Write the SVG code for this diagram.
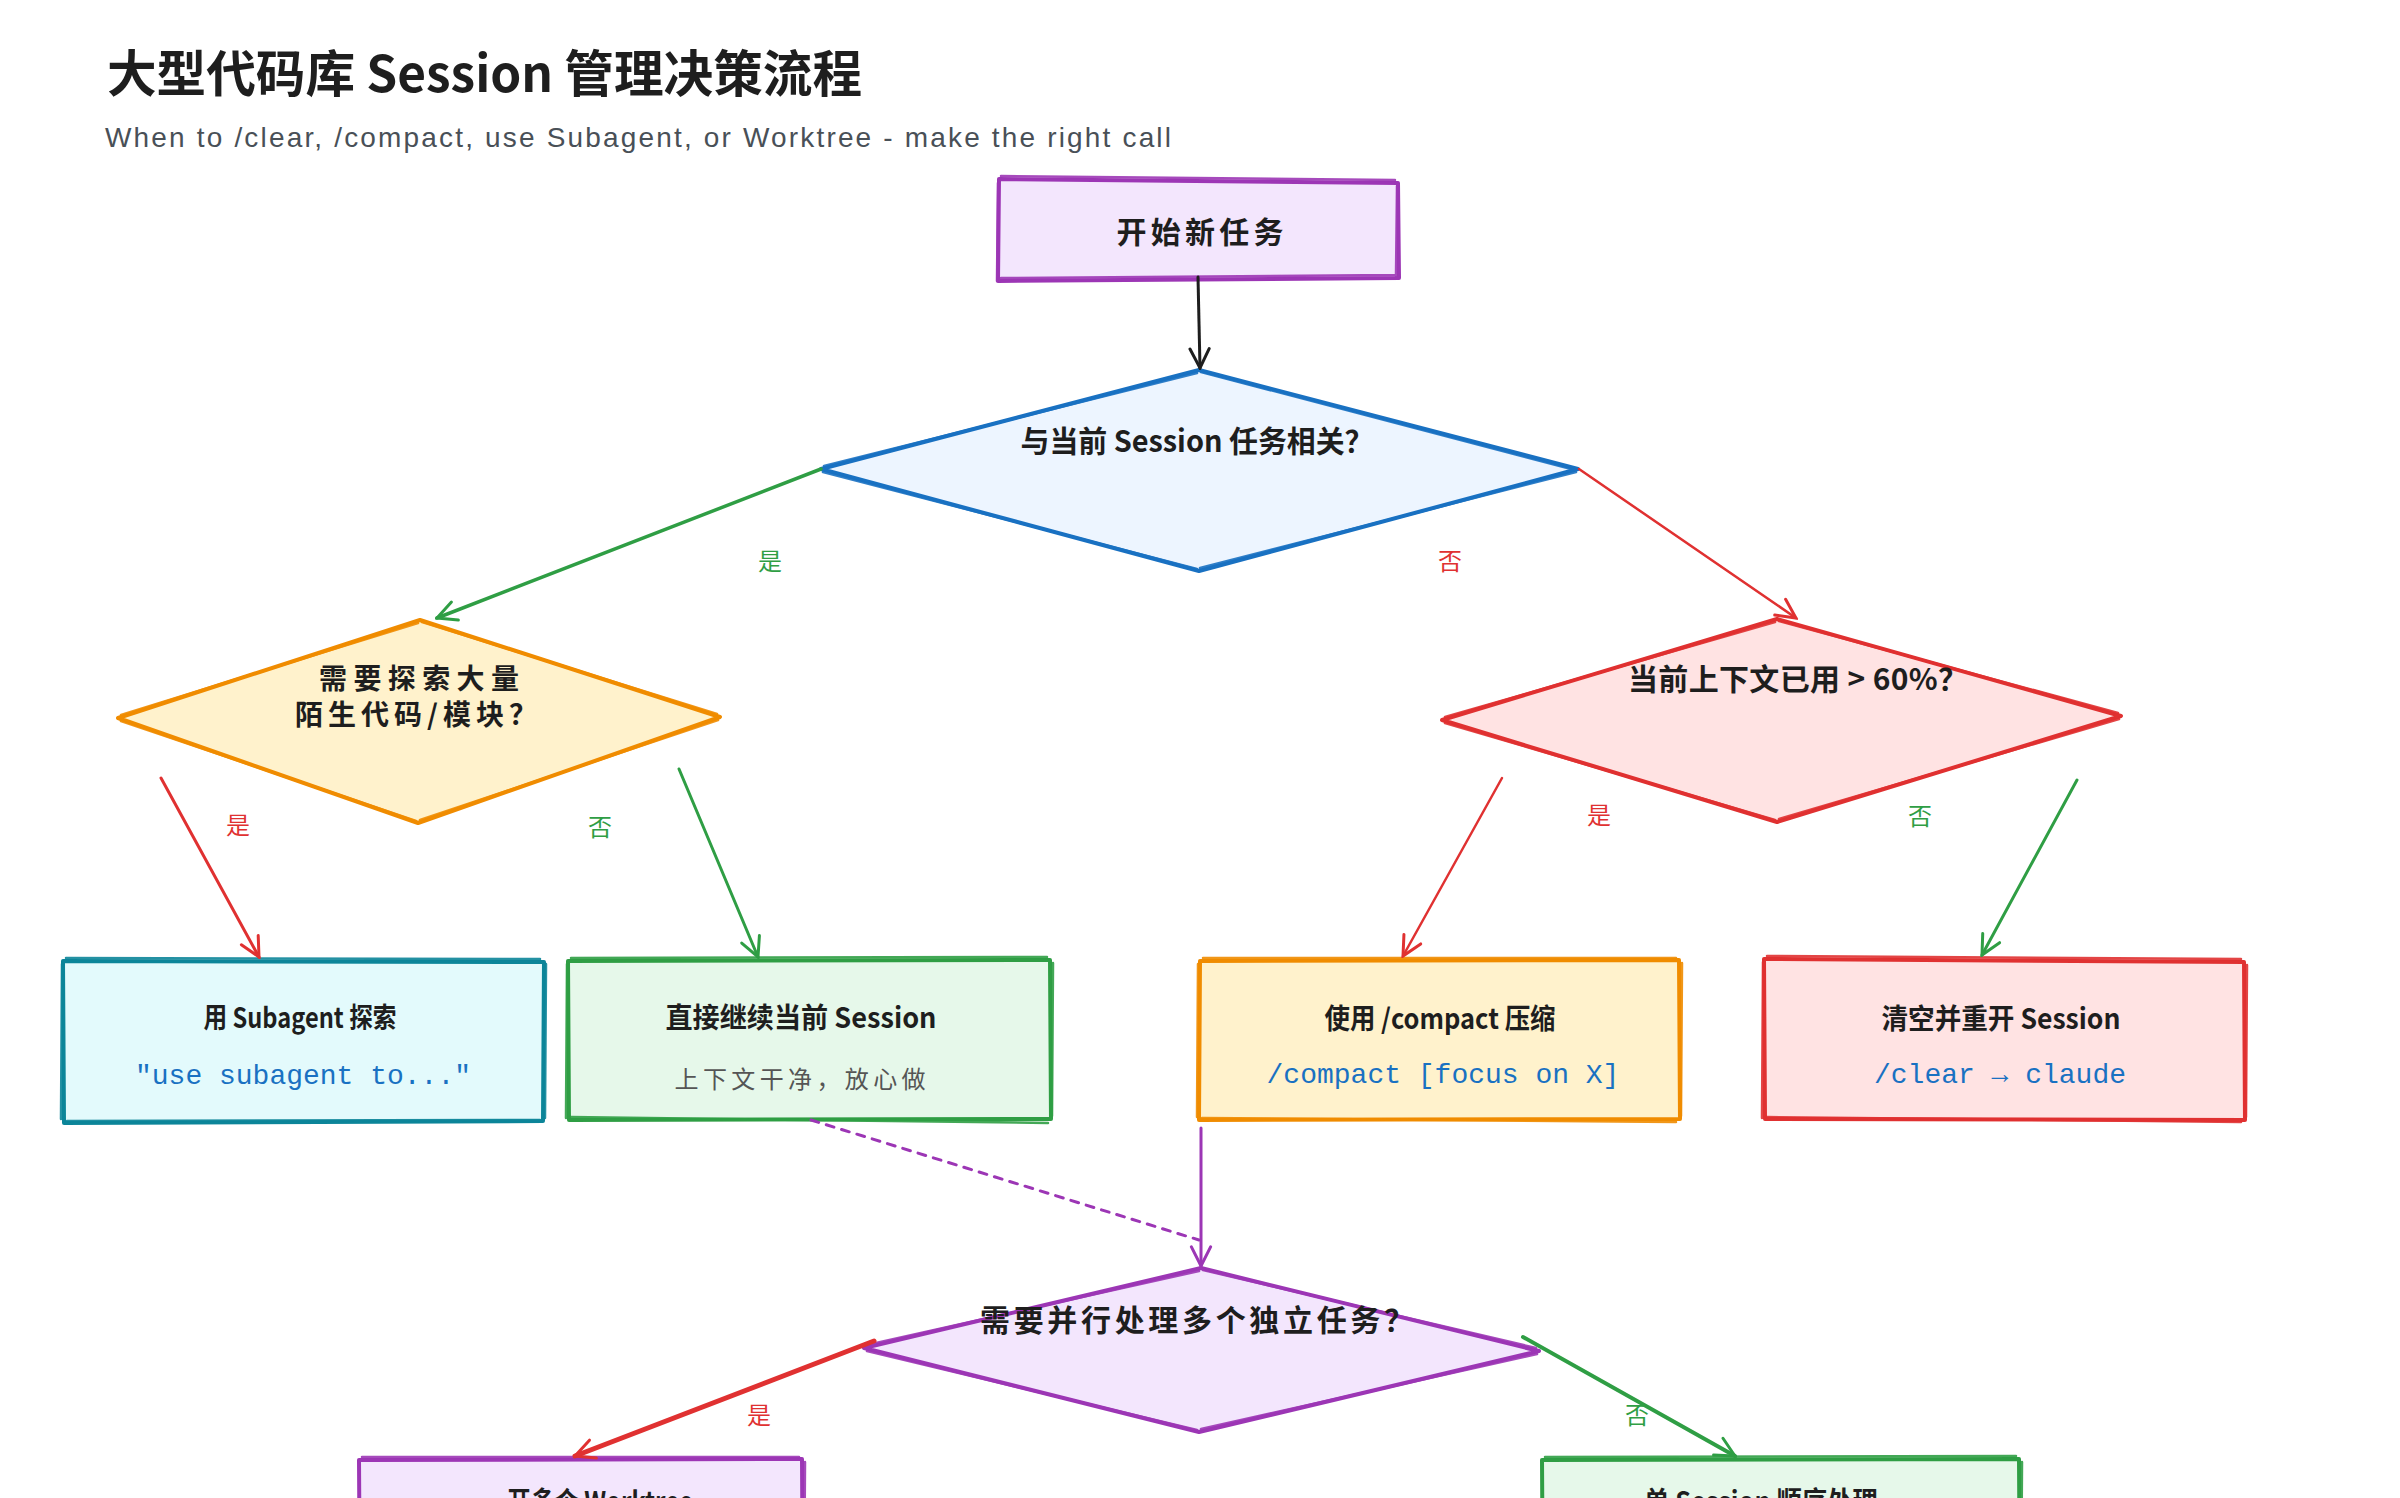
<svg xmlns="http://www.w3.org/2000/svg" width="2400" height="1498" viewBox="0 0 2400 1498">
<defs>
<style>
.sk{stroke-width:4;stroke-linejoin:round;stroke-linecap:round}
.sk2{fill:none;stroke-width:2.5;stroke-linecap:round;opacity:.9}
.purple{fill:#f3e6fd;stroke:#9c36b5}
.blue{fill:#edf5ff;stroke:#1971c2}
.orange{fill:#fff2cc;stroke:#f08c00}
.red{fill:#ffe3e3;stroke:#e03131}
.cyan{fill:#e3fafc;stroke:#0c8599}
.green{fill:#e6f8ea;stroke:#2f9e44}
.t{font-family:"Noto Sans CJK SC","Liberation Sans",sans-serif;font-weight:700;fill:#1e1e1e;text-anchor:middle;dominant-baseline:central}
.t28{font-size:28px}
.t30{font-size:30px}
.code{font-family:"Liberation Mono","DejaVu Sans Mono",monospace;font-size:28px;fill:#1971c2;text-anchor:middle;dominant-baseline:central}
.sub{font-family:"Noto Sans CJK SC","Liberation Sans",sans-serif;font-size:24px;fill:#555;text-anchor:middle;dominant-baseline:central}
.lbl{font-family:"Noto Sans CJK SC","Liberation Sans",sans-serif;font-size:24px;text-anchor:middle;dominant-baseline:central}
.e{fill:none;stroke-linecap:round}
</style>
<marker id="ah-black" viewBox="0 0 20 20" markerWidth="24" markerHeight="24" refX="18" refY="10" orient="auto" markerUnits="userSpaceOnUse"><path d="M2,2 L18,10 L2,18" fill="none" stroke="#1e1e1e" stroke-width="2.5" stroke-linecap="round"/></marker>
<marker id="ah-green" viewBox="0 0 20 20" markerWidth="24" markerHeight="24" refX="18" refY="10" orient="auto" markerUnits="userSpaceOnUse"><path d="M2,2 L18,10 L2,18" fill="none" stroke="#2f9e44" stroke-width="2.5" stroke-linecap="round"/></marker>
<marker id="ah-red" viewBox="0 0 20 20" markerWidth="24" markerHeight="24" refX="18" refY="10" orient="auto" markerUnits="userSpaceOnUse"><path d="M2,2 L18,10 L2,18" fill="none" stroke="#e03131" stroke-width="2.5" stroke-linecap="round"/></marker>
<marker id="ah-purple" viewBox="0 0 20 20" markerWidth="24" markerHeight="24" refX="18" refY="10" orient="auto" markerUnits="userSpaceOnUse"><path d="M2,2 L18,10 L2,18" fill="none" stroke="#9c36b5" stroke-width="2.5" stroke-linecap="round"/></marker>
</defs>
<rect width="2400" height="1498" fill="#ffffff"/>

<g id="title">
<text x="107" y="70" font-family="'Noto Sans CJK SC','Liberation Sans',sans-serif" font-weight="700" font-size="50" fill="#1e1e1e" dominant-baseline="central" textLength="755" lengthAdjust="spacingAndGlyphs">大型代码库 Session 管理决策流程</text>
<text x="105" y="147" font-family="'Liberation Sans',sans-serif" font-size="28" fill="#495057" textLength="1066" lengthAdjust="spacing">When to /clear, /compact, use Subagent, or Worktree - make the right call</text>
</g>

<g id="n-start">
<path class="sk purple" d="M999,179 L1398,183 L1399,278 L998,281 Z"/>
<path class="sk2" stroke="#9c36b5" d="M1001,176 L1395,180 M1397,186 L1396,276 M1396,275 L1001,278 M997,281 L998,183"/>
<text class="t t30" x="1200" y="230" textLength="167" lengthAdjust="spacing">开始新任务</text>
</g>

<g id="n-related">
<path class="sk blue" d="M821,469 L1199,370 L1578,469 L1199,571 Z"/>
<path class="sk2" stroke="#1971c2" d="M824,466 L1197,373 M1201,372 L1575,470 M1576,472 L1200,568 M1197,569 L823,472"/>
<text class="t t30" x="1197" y="439" textLength="353" lengthAdjust="spacingAndGlyphs">与当前 Session 任务相关？</text>
</g>

<g id="n-explore">
<path class="sk orange" d="M118,718 L420,620 L720,717 L418,823 Z"/>
<path class="sk2" stroke="#f08c00" d="M121,715 L418,623 M422,622 L717,714 M718,720 L420,820 M416,821 L121,721"/>
<text class="t t28" x="419" y="677" textLength="200" lengthAdjust="spacing">需要探索大量</text>
<text class="t t28" x="416" y="713" textLength="242" lengthAdjust="spacing">陌生代码/模块？</text>
</g>

<g id="n-context">
<path class="sk red" d="M1442,720 L1777,619 L2121,716 L1777,822 Z"/>
<path class="sk2" stroke="#e03131" d="M1445,717 L1775,622 M1779,621 L2118,713 M2119,719 L1779,819 M1775,820 L1445,723"/>
<text class="t t30" x="1798" y="677" textLength="340" lengthAdjust="spacing">当前上下文已用 &gt; 60%？</text>
</g>

<g id="n-subagent">
<path class="sk cyan" d="M63,961 L544,962 L543,1121 L64,1123 Z"/>
<path class="sk2" stroke="#0c8599" d="M66,958 L540,959 M546,964 L545,1118 M540,1120 L67,1121 M61,1119 L62,964"/>
<text class="t t28" x="300" y="1016" textLength="193" lengthAdjust="spacingAndGlyphs">用 Subagent 探索</text>
<text class="code" x="303" y="1076">"use subagent to..."</text>
</g>

<g id="n-continue">
<path class="sk green" d="M568,961 L1050,960 L1051,1119 L569,1120 Z"/>
<path class="sk2" stroke="#2f9e44" d="M571,958 L1047,957 M1053,963 L1052,1116 M1048,1123 L570,1117 M566,1118 L567,964"/>
<text class="t t28" x="801" y="1016" textLength="271" lengthAdjust="spacingAndGlyphs">直接继续当前 Session</text>
<text class="sub" x="800" y="1077" textLength="251" lengthAdjust="spacing">上下文干净，放心做</text>
</g>

<g id="n-compact">
<path class="sk orange" d="M1200,961 L1679,960 L1680,1119 L1199,1120 Z"/>
<path class="sk2" stroke="#f08c00" d="M1203,958 L1676,958 M1682,963 L1681,1116 M1676,1122 L1202,1118 M1197,1117 L1198,964"/>
<text class="t t28" x="1440" y="1017" textLength="231" lengthAdjust="spacingAndGlyphs">使用 /compact 压缩</text>
<text class="code" x="1443" y="1075">/compact [focus on X]</text>
</g>

<g id="n-clear">
<path class="sk red" d="M1764,959 L2244,962 L2245,1120 L1765,1119 Z"/>
<path class="sk2" stroke="#e03131" d="M1767,956 L2241,959 M2247,965 L2246,1117 M2241,1122 L1766,1117 M1762,1118 L1763,962"/>
<text class="t t28" x="2001" y="1017" textLength="239" lengthAdjust="spacingAndGlyphs">清空并重开 Session</text>
<text class="code" x="2000" y="1075">/clear → claude</text>
</g>

<g id="n-parallel">
<path class="sk purple" d="M864,1348 L1201,1268 L1539,1351 L1199,1432 Z"/>
<path class="sk2" stroke="#9c36b5" d="M867,1345 L1199,1271 M1203,1270 L1536,1348 M1537,1354 L1201,1429 M1197,1430 L867,1351"/>
<text class="t t30" x="1197" y="1318" textLength="434" lengthAdjust="spacing">需要并行处理多个独立任务？</text>
</g>

<g id="n-worktree">
<path class="sk purple" d="M359,1460 L802,1459 L803,1620 L360,1621 Z"/>
<path class="sk2" stroke="#9c36b5" d="M362,1457 L799,1457 M805,1462 L804,1618"/>
<text class="t t28" x="600" y="1500" textLength="186" lengthAdjust="spacingAndGlyphs">开多个 Worktree</text>
</g>

<g id="n-single">
<path class="sk green" d="M1542,1460 L2019,1459 L2020,1620 L1543,1621 Z"/>
<path class="sk2" stroke="#2f9e44" d="M1545,1457 L2016,1456 M2022,1462 L2021,1618"/>
<text class="t t28" x="1761" y="1500" textLength="234" lengthAdjust="spacingAndGlyphs">单 Session 顺序处理</text>
</g>

<g id="edges">
<path class="e" stroke="#1e1e1e" stroke-width="3" d="M1198,277 L1200,368" marker-end="url(#ah-black)"/>
<path class="e" stroke="#2f9e44" stroke-width="3.5" d="M821,469 L437,618" marker-end="url(#ah-green)"/>
<path class="e" stroke="#e03131" stroke-width="2.5" d="M1579,469 L1796,618" marker-end="url(#ah-red)"/>
<path class="e" stroke="#e03131" stroke-width="3" d="M161,778 L259,957" marker-end="url(#ah-red)"/>
<path class="e" stroke="#2f9e44" stroke-width="3" d="M679,769 L758,957" marker-end="url(#ah-green)"/>
<path class="e" stroke="#e03131" stroke-width="2.5" d="M1502,778 L1403,956" marker-end="url(#ah-red)"/>
<path class="e" stroke="#2f9e44" stroke-width="3" d="M2077,780 L1982,955" marker-end="url(#ah-green)"/>
<path class="e" stroke="#9c36b5" stroke-width="3" stroke-dasharray="8 8" d="M811,1120 L1199,1240"/>
<path class="e" stroke="#9c36b5" stroke-width="3" d="M1201,1128 L1201,1266" marker-end="url(#ah-purple)"/>
<path class="e" stroke="#e03131" stroke-width="5" d="M874,1341 L575,1456" marker-end="url(#ah-red)"/>
<path class="e" stroke="#2f9e44" stroke-width="4" d="M1523,1337 L1735,1456" marker-end="url(#ah-green)"/>
<text class="lbl" x="770" y="559" fill="#2f9e44">是</text>
<text class="lbl" x="1450" y="559" fill="#e03131">否</text>
<text class="lbl" x="238" y="823" fill="#e03131">是</text>
<text class="lbl" x="600" y="825" fill="#2f9e44">否</text>
<text class="lbl" x="1599" y="813" fill="#e03131">是</text>
<text class="lbl" x="1920" y="814" fill="#2f9e44">否</text>
<text class="lbl" x="759" y="1413" fill="#e03131">是</text>
<text class="lbl" x="1637" y="1413" fill="#2f9e44">否</text>
</g>
</svg>
